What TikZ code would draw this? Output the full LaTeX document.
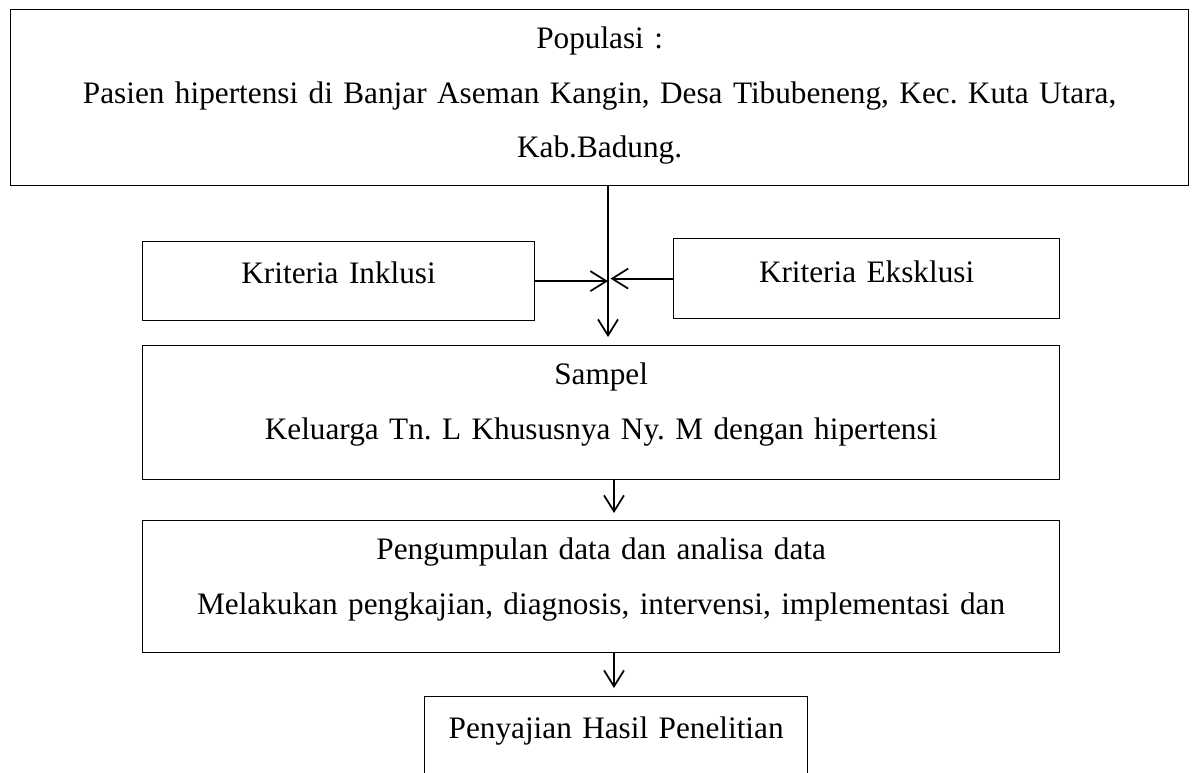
\documentclass[tikz,border=0pt]{standalone}
\usepackage{fontspec}
\setmainfont{Liberation Serif}
\usetikzlibrary{arrows.meta}
\frenchspacing

\tikzset{
  kotak/.style={draw, line width=0.5pt, inner sep=0pt, anchor=north west,
    align=center, font=\fontsize{12.5}{21.8}\selectfont},
  panah/.style={line width=0.7pt,
    -{Straight Barb[length=6.4pt,width=8pt,line width=0.7pt]}},
}

\begin{document}
\begin{tikzpicture}[x=0.4pt,y=-0.4pt]
	\useasboundingbox (0,0) rectangle (1195,773);
	\clip (0,0) rectangle (1195,773);

	% kotak-kotak
	\node[kotak, text width=471.2pt, text height=15.6pt, text depth=54.8pt] (pop) at (10,9)
		{Populasi :\\ Pasien hipertensi di Banjar Aseman Kangin, Desa Tibubeneng, Kec. Kuta Utara,\\ Kab.Badung.};
	\node[kotak, text width=156.8pt, text height=16.8pt, text depth=14.8pt] (inkl) at (142,241)
		{Kriteria Inklusi};
	\node[kotak, text width=154.4pt, text height=17.6pt, text depth=14.4pt] (eksk) at (673,238)
		{Kriteria Eksklusi};
	\node[kotak, text width=366.8pt, text height=15.6pt, text depth=38pt] (sam) at (142,345)
		{Sampel\\ Keluarga Tn. L Khususnya Ny. M dengan hipertensi};
	\node[kotak, text width=366.8pt, text height=15.6pt, text depth=37.2pt] (kump) at (142,520)
		{Pengumpulan data dan analisa data\\ Melakukan pengkajian, diagnosis, intervensi, implementasi dan};
	\node[kotak, text width=153.2pt, text height=16.8pt, text depth=30pt] (saji) at (424,696)
		{Penyajian Hasil Penelitian};

	\coordinate (jn) at (608,283);
	\coordinate (ax) at (614,0);

	% panah
	\draw[panah, shorten >=3.2pt] (pop.south -| jn) -- (sam.north -| jn);
	\draw[panah] (inkl.east) -- (inkl.east -| jn);
	\draw[panah] (eksk.west) -- ([xshift=1pt]eksk.west -| jn);
	\draw[panah, shorten >=2.8pt] (sam.south -| ax) -- (kump.north -| ax);
	\draw[panah, shorten >=3.2pt] (kump.south -| ax) -- (saji.north -| ax);
\end{tikzpicture}
\end{document}
